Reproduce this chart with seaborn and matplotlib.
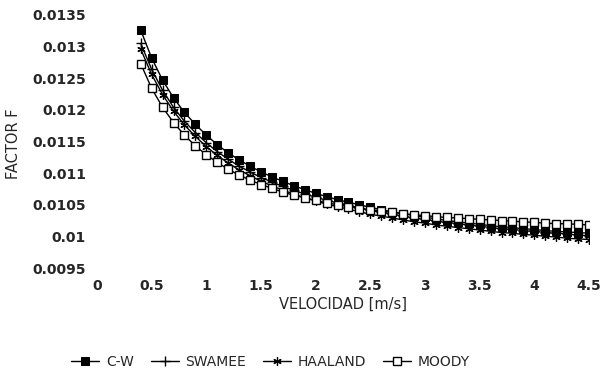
import numpy as np
import pandas as pd
import matplotlib
matplotlib.use("Agg")
import matplotlib.pyplot as plt
import seaborn as sns

# ============================
# Datos
# ============================
velocidad = [0.4, 0.5, 0.6, 0.7, 0.8, 0.9, 1.0, 1.1, 1.2, 1.3, 1.4,
             1.5, 1.6, 1.7, 1.8, 1.9, 2.0, 2.1, 2.2, 2.3, 2.4,
             2.5, 2.6, 2.7, 2.8, 2.9, 3.0, 3.1, 3.2, 3.3, 3.4,
             3.5, 3.6, 3.7, 3.8, 3.9, 4.0, 4.1, 4.2, 4.3, 4.4, 4.5]

f_cw = [0.01326, 0.01282, 0.01247, 0.01219, 0.01196, 0.01177, 0.01160, 0.01145,
        0.01132, 0.01121, 0.01111, 0.01102, 0.01094, 0.01087, 0.01080, 0.01074,
        0.01068, 0.01063, 0.01058, 0.01054, 0.01050, 0.01046, 0.01042, 0.01039,
        0.01036, 0.01033, 0.01030, 0.01028, 0.01025, 0.01023, 0.01021, 0.01019,
        0.01017, 0.01015, 0.01014, 0.01012, 0.01011, 0.01009, 0.01008, 0.01007,
        0.01006, 0.01005]

f_swamee = [0.01305, 0.01264, 0.01231, 0.01204, 0.01182, 0.01164, 0.01148, 0.01134,
            0.01122, 0.01111, 0.01102, 0.01093, 0.01086, 0.01079, 0.01073, 0.01067,
            0.01062, 0.01057, 0.01053, 0.01049, 0.01045, 0.01041, 0.01038, 0.01035,
            0.01032, 0.01029, 0.01027, 0.01024, 0.01022, 0.01020, 0.01018, 0.01016,
            0.01014, 0.01012, 0.01011, 0.01009, 0.01008, 0.01006, 0.01005, 0.01004,
            0.01002, 0.01001]

f_haaland = [0.01296, 0.01256, 0.01224, 0.01198, 0.01176, 0.01158, 0.01142, 0.01128,
             0.01116, 0.01105, 0.01096, 0.01087, 0.01080, 0.01073, 0.01067, 0.01061,
             0.01056, 0.01051, 0.01047, 0.01043, 0.01039, 0.01035, 0.01032, 0.01029,
             0.01026, 0.01023, 0.01021, 0.01018, 0.01016, 0.01014, 0.01012, 0.01010,
             0.01008, 0.01006, 0.01005, 0.01003, 0.01002, 0.01000, 0.00999, 0.00997,
             0.00996, 0.00995]

f_moody = [0.01273, 0.01234, 0.01204, 0.01180, 0.01160, 0.01143, 0.01129, 0.01117,
           0.01106, 0.01097, 0.01089, 0.01082, 0.01076, 0.01070, 0.01065, 0.01061,
           0.01057, 0.01053, 0.01050, 0.01047, 0.01044, 0.01042, 0.01040, 0.01038,
           0.01036, 0.01034, 0.01033, 0.01031, 0.01030, 0.01029, 0.01028, 0.01027,
           0.01026, 0.01025, 0.01024, 0.01023, 0.01022, 0.01021, 0.01020, 0.01020,
           0.01019, 0.01018]

x_ticks = [0, 0.5, 1, 1.5, 2, 2.5, 3, 3.5, 4, 4.5]
y_ticks = [0.0095, 0.01, 0.0105, 0.011, 0.0115, 0.012, 0.0125, 0.013, 0.0135]

series = [
    ("C-W", f_cw, dict(marker="s", markerfacecolor="black", markersize=5.5)),
    ("SWAMEE", f_swamee, dict(marker="+", markersize=7, markeredgewidth=1.0)),
    ("HAALAND", f_haaland, dict(marker=(6, 2, 0), markersize=6, markeredgewidth=0.9)),
    ("MOODY", f_moody, dict(marker="s", markerfacecolor="white", markersize=5.5,
                            markeredgewidth=1.0)),
]

# ============================
# Grafico
# ============================
sns.set_theme(style="white")
plt.rcParams["font.family"] = ["DejaVu Sans"]

fig = plt.figure(figsize=(6.08, 3.82), dpi=100)
ax = fig.add_axes([97 / 608, 1 - 268 / 382, 492 / 608, 253 / 382])

for name, vals, kw in series:
    sns.lineplot(x=velocidad, y=vals, ax=ax, color="black", linewidth=1.0,
                 markeredgecolor="black", label=name, **kw)

ax.set_xlim(0, 4.5)
ax.set_ylim(0.0095, 0.0135)
ax.set_xticks(x_ticks)
ax.set_yticks(y_ticks)
ax.set_xticklabels([f"{t:g}" for t in x_ticks], fontsize=10, fontweight="semibold")
ax.set_yticklabels([f"{t:g}" for t in y_ticks], fontsize=10, fontweight="semibold")
ax.tick_params(axis="x", length=0, pad=8)
ax.tick_params(axis="y", length=0, pad=8)
for s in ax.spines.values():
    s.set_visible(False)
ax.grid(False)

ax.set_xlabel("VELOCIDAD [m/s]", fontsize=10.5)
ax.xaxis.set_label_coords(0.5, -0.112)
ax.set_ylabel("FACTOR F", fontsize=10.5)
ax.yaxis.set_label_coords(-0.155, 0.49)

ax.legend(loc="center", bbox_to_anchor=(0.445, 0.052), bbox_transform=fig.transFigure,
          ncol=4, frameon=False, handlelength=2.0, columnspacing=1.2,
          handletextpad=0.5, prop={"size": 10})

fig.savefig("out.png", dpi=100)
